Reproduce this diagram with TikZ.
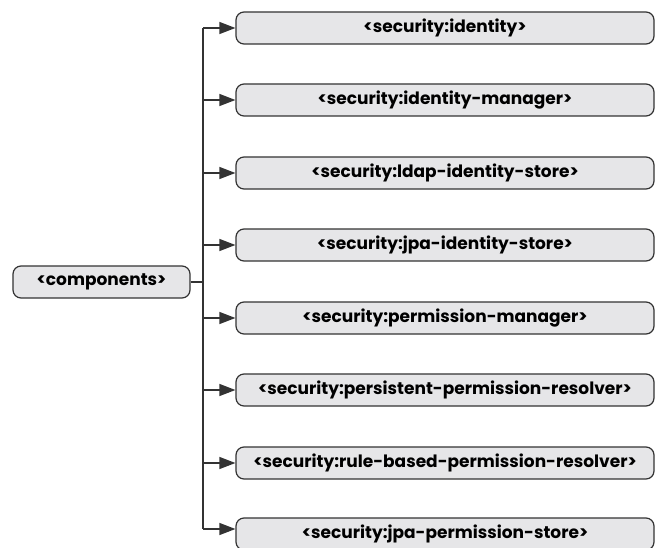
\documentclass[tikz,border=0pt]{standalone}
\usepackage{fontspec}
\setmainfont{Poppins}
\usetikzlibrary{arrows.meta,calc}
\definecolor{boxfill}{HTML}{E6E6E8}
\definecolor{linec}{HTML}{333333}
\begin{document}
\begin{tikzpicture}[x=1pt,y=-1pt,
  itembox/.style={draw=linec,fill=boxfill,line width=1.2pt,rounded corners=8pt,
    minimum height=32pt,inner sep=0pt,font=\bfseries\fontsize{17}{20}\selectfont,text=black},
  conn/.style={draw=linec,line width=1.2pt},
  arr/.style={conn,-{Triangle[length=16pt,width=12pt]}}]
\useasboundingbox (0,0) rectangle (655,548);
\node[itembox,minimum width=177pt] (comp) at (101.5,282) {<components>};
\coordinate (trunktop) at (203,28);
\coordinate (trunkbot) at (203,529);
\coordinate (junc) at (203,282);
\foreach \i/\y/\t in {1/28/identity,2/100/identity-manager,3/173/ldap-identity-store,4/245/jpa-identity-store,5/318/permission-manager,6/390/persistent-permission-resolver,7/463/rule-based-permission-resolver,8/534/jpa-permission-store}{
  \node[itembox,minimum width=418pt] (b\i) at (445,\y) {<security:\t>};
}
\draw[conn] (comp.east) -- (junc);
\draw[conn] (trunktop) -- (trunkbot);
\foreach \i in {1,...,7}{
  \draw[arr] (b\i.west -| junc) -- (b\i.west);
}
\draw[arr] (trunkbot) -- ([yshift=5pt]b8.west);
\end{tikzpicture}
\end{document}
